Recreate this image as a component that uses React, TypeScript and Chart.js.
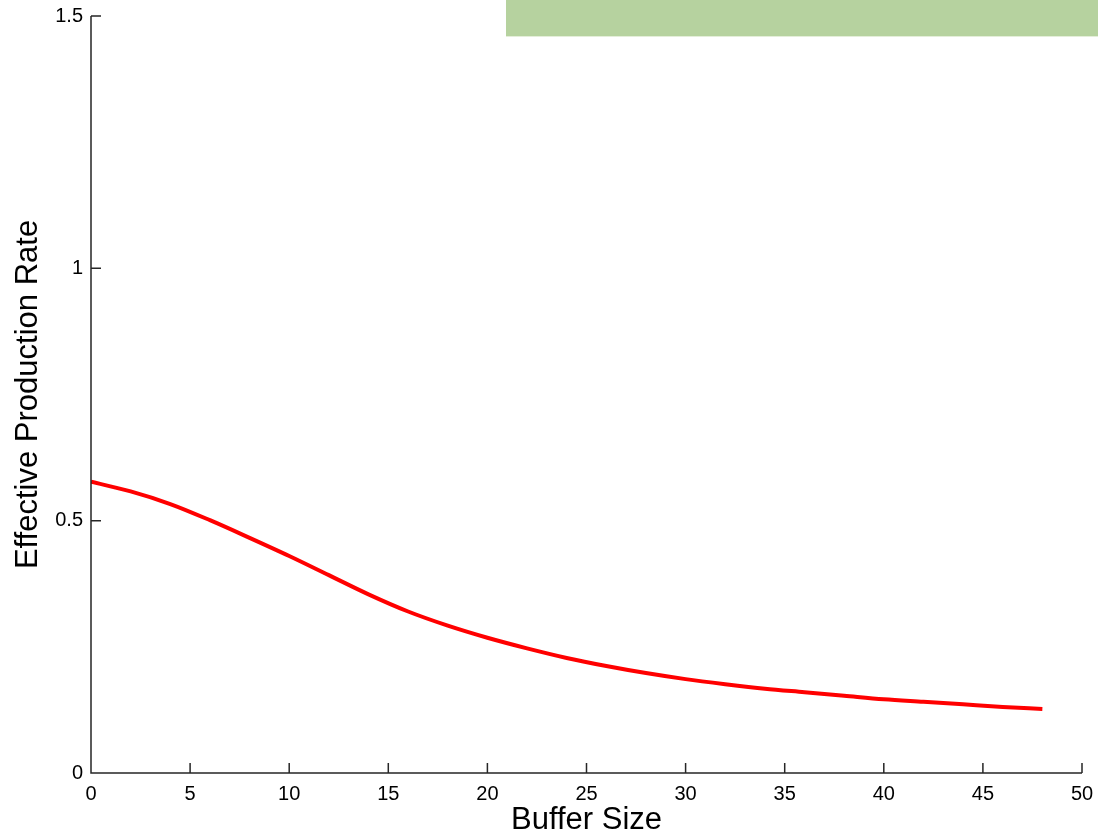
import { useEffect, useRef } from "react";
import { Chart, registerables } from "chart.js";

Chart.register(...registerables);

// ---- data ----
const bufferSize = [0, 2, 4, 6, 8, 10, 12, 14, 16, 18, 20, 22, 24, 26, 28, 30, 32, 34, 36, 38, 40, 42, 44, 46, 48];
const productionRate = [
  0.577, 0.558, 0.533, 0.501, 0.466, 0.43, 0.392, 0.354, 0.32, 0.292, 0.268, 0.247, 0.228, 0.212, 0.198,
  0.186, 0.176, 0.167, 0.16, 0.153, 0.146, 0.141, 0.136, 0.131, 0.127,
];
const xTicks = [0, 5, 10, 15, 20, 25, 30, 35, 40, 45, 50];
const yTicks = [0, 0.5, 1, 1.5];
const xTitle = "Buffer Size";
const yTitle = "Effective Production Rate";

const FONT = "'Liberation Sans', Arial, Helvetica, sans-serif";
const AXIS_COLOR = "#262626";

const innerTicks = {
  id: "innerTicks",
  afterDraw(chart: any) {
    const { ctx, chartArea, scales } = chart;
    const x = scales.x;
    const y = scales.y;
    ctx.save();
    ctx.strokeStyle = AXIS_COLOR;
    ctx.lineWidth = 1.5;
    ctx.beginPath();
    ctx.moveTo(chartArea.left, chartArea.top);
    ctx.lineTo(chartArea.left, chartArea.bottom);
    ctx.lineTo(chartArea.right, chartArea.bottom);
    for (const t of xTicks) {
      const px = x.getPixelForValue(t);
      ctx.moveTo(px, chartArea.bottom);
      ctx.lineTo(px, chartArea.bottom - 10);
    }
    for (const t of yTicks) {
      const py = y.getPixelForValue(t);
      ctx.moveTo(chartArea.left, py);
      ctx.lineTo(chartArea.left + 10, py);
    }
    ctx.stroke();
    ctx.restore();
  },
};

export default function App() {
  const canvasRef = useRef<HTMLCanvasElement | null>(null);

  useEffect(() => {
    const canvas = canvasRef.current;
    if (!canvas) return;
    const chart = new Chart(canvas, {
      type: "line",
      data: {
        datasets: [
          {
            data: bufferSize.map((b, i) => ({ x: b, y: productionRate[i] })),
            borderColor: "#ff0000",
            borderWidth: 4,
            pointRadius: 0,
            fill: false,
            cubicInterpolationMode: "monotone",
          },
        ],
      },
      options: {
        animation: false,
        responsive: false,
        maintainAspectRatio: false,
        layout: { padding: { left: 0, top: 16, right: 16, bottom: 0 } },
        plugins: {
          legend: { display: false },
          tooltip: { enabled: false },
        },
        scales: {
          x: {
            type: "linear",
            min: 0,
            max: 50,
            afterBuildTicks: (scale: any) => {
              scale.ticks = xTicks.map((v) => ({ value: v }));
            },
            afterFit: (scale: any) => {
              scale.height = 63;
              scale.paddingLeft = 0;
              scale.paddingRight = 0;
            },
            grid: { display: false, drawTicks: false },
            border: { display: false },
            ticks: {
              autoSkip: false,
              maxRotation: 0,
              padding: 9,
              color: "#000",
              font: { family: FONT, size: 20 },
              callback: (v: any) => String(v),
            },
            title: {
              display: true,
              text: xTitle,
              color: "#000",
              font: { family: FONT, size: 31, lineHeight: 1 },
              padding: { top: 0, bottom: 0 },
            },
          },
          y: {
            type: "linear",
            min: 0,
            max: 1.5,
            afterBuildTicks: (scale: any) => {
              scale.ticks = yTicks.map((v) => ({ value: v }));
            },
            afterFit: (scale: any) => {
              scale.width = 91;
              scale.paddingTop = 0;
              scale.paddingBottom = 0;
            },
            grid: { display: false, drawTicks: false },
            border: { display: false },
            ticks: {
              autoSkip: false,
              padding: 8,
              color: "#000",
              font: { family: FONT, size: 20 },
              callback: (v: any) => String(v),
            },
            title: {
              display: true,
              text: yTitle,
              color: "#000",
              font: { family: FONT, size: 31, lineHeight: 1 },
              padding: { top: 13, bottom: 0 },
            },
          },
        },
      },
      plugins: [innerTicks],
    } as any);
    return () => chart.destroy();
  }, []);

  return (
    <div style={{ position: "fixed", left: 0, top: 0, width: 1098, height: 836, background: "#fff" }}>
      <canvas ref={canvasRef} width={1098} height={836} style={{ width: 1098, height: 836, display: "block" }} />
      <div
        style={{
          position: "absolute",
          left: 506,
          top: 0,
          width: 592,
          height: 36,
          background: "#b6d29f",
          borderBottom: "1px solid #e4eed9",
        }}
      />
    </div>
  );
}
